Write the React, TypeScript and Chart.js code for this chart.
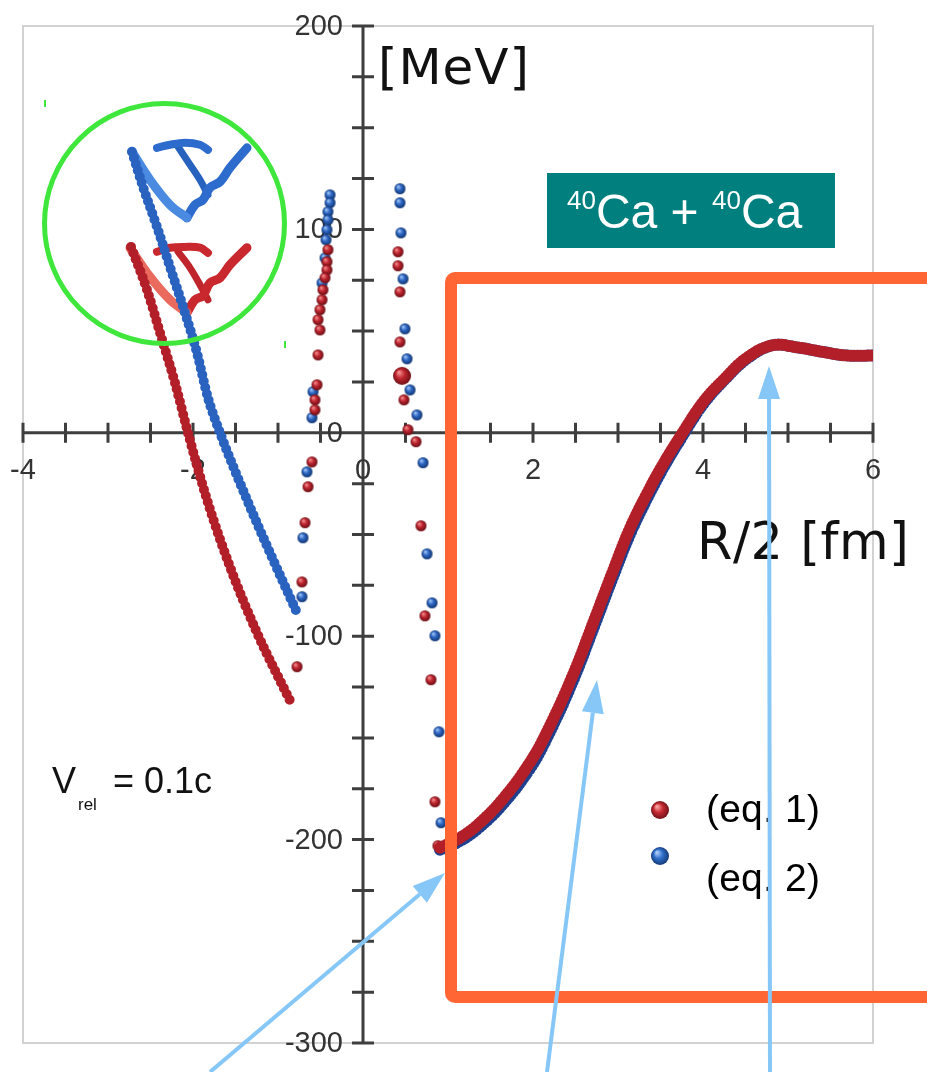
import { useEffect, useRef } from 'react';
import { Chart, registerables } from 'chart.js';

Chart.register(...registerables);

type Pt = [number, number];

// Axis ranges, tick marks and tick labels
const xRange: Pt = [-4, 6];
const yRange: Pt = [-300, 200];
const xTickValues = [-4, -3.5, -3, -2.5, -2, -1.5, -1, -0.5, 0, 0.5, 1, 1.5, 2, 2.5, 3, 3.5, 4, 4.5, 5, 5.5, 6];
const yTickValues = [-300, -275, -250, -225, -200, -175, -150, -125, -100, -75, -50, -25, 0, 25, 50, 75, 100, 125, 150, 175, 200];
const xTickLabels = ['-4', '-2', '0', '2', '4', '6'];
const yTickLabels = ['200', '100', '0', '-100', '-200', '-300'];

// Potential for R/2 > ~0.9 fm (eq. 1 and eq. 2 almost coincide)
const eq1Curve: Pt[] = [
  [0.906, -204], [1.106, -200], [1.341, -193], [1.647, -180], [1.965, -162], [2.176, -146],
  [2.47, -119], [2.73, -91], [2.94, -68], [3.14, -47], [3.34, -30], [3.53, -15.5], [3.76, 0],
  [4.0, 15], [4.24, 26], [4.52, 37], [4.82, 43], [5.11, 42], [5.38, 40], [5.69, 38], [6.0, 38],
];
const eq2Curve: Pt[] = [
  [0.906, -205], [1.106, -201.5], [1.341, -195], [1.647, -182.5], [1.965, -165], [2.176, -149],
  [2.47, -122], [2.73, -94], [2.94, -71], [3.14, -50], [3.34, -32.5], [3.53, -17.5], [3.76, -1.5],
  [4.0, 14], [4.24, 25.5], [4.52, 36.5], [4.82, 43], [5.11, 42], [5.38, 40], [5.69, 38], [6.0, 38],
];

// Negative-R branches
const eq1Diagonal: Pt[] = [
  [-2.729, 91.4], [-2.541, 70.3], [-2.388, 49.2], [-2.212, 24.6], [-2.059, 0], [-1.835, -32.9],
  [-1.565, -65.9], [-1.247, -98.3], [-0.835, -133.7],
];
const eq2Diagonal: Pt[] = [
  [-2.718, 138.2], [-2.588, 120.9], [-2.424, 101.3], [-2.271, 81.6], [-2.094, 59.0], [-1.953, 39.3],
  [-1.824, 17.2], [-1.682, 0], [-1.365, -32.9], [-1.094, -59.0], [-0.776, -88.5],
];

// Tangled loops near the top of the negative-R branches
const eq1LoopArc: Pt[] = [[-2.741, 90.9], [-2.506, 76.7], [-2.271, 65.4], [-2.071, 59.0]];
const eq1LoopZigzag: Pt[] = [[-2.071, 59.0], [-1.976, 65.4], [-1.882, 67.4], [-1.8, 73.7], [-1.682, 76.2], [-1.565, 82.6], [-1.365, 91.0]];
const eq1LoopBar: Pt[] = [[-2.424, 89.0], [-2.271, 91.0], [-2.094, 91.4], [-1.918, 91.0], [-1.824, 88.5]];
const eq1LoopStem: Pt[] = [[-2.176, 89.0], [-2.035, 81.1], [-1.918, 72.8], [-1.824, 65.4]];
const eq2LoopArc: Pt[] = [[-2.718, 138.2], [-2.506, 124.4], [-2.271, 112.1], [-2.071, 105.7]];
const eq2LoopZigzag: Pt[] = [[-2.071, 105.7], [-1.976, 112.1], [-1.882, 114.6], [-1.8, 120.5], [-1.682, 123.4], [-1.565, 130.3], [-1.365, 140.1]];
const eq2LoopBar: Pt[] = [[-2.424, 140.1], [-2.271, 141.6], [-2.094, 142.6], [-1.918, 141.6], [-1.824, 139.1]];
const eq2LoopStem: Pt[] = [[-2.176, 140.6], [-2.035, 131.8], [-1.918, 124.4], [-1.824, 117.0]];

// Scattered points around R/2 = -0.5 and R/2 = 0.5
const eq1ColumnLeft: Pt[] = [
  [-0.412, 90.0], [-0.424, 84.1], [-0.424, 80.1], [-0.447, 76.2], [-0.471, 70.3], [-0.482, 65.4],
  [-0.506, 60.5], [-0.529, 55.6], [-0.506, 50.6], [-0.529, 38.3], [-0.541, 23.6], [-0.565, 16.2],
  [-0.565, 11.3], [-0.6, -14.3], [-0.647, -26.5], [-0.682, -44.2], [-0.718, -73.3], [-0.776, -115.0],
];
const eq2ColumnLeft: Pt[] = [
  [-0.388, 117.0], [-0.388, 113.1], [-0.412, 108.7], [-0.412, 104.7], [-0.424, 99.8], [-0.435, 94.9],
  [-0.447, 86.0], [-0.482, 73.7], [-0.588, 20.2], [-0.6, 7.4], [-0.659, -19.2], [-0.706, -51.6],
  [-0.718, -80.6],
];
const eq1ColumnRight: Pt[] = [
  [0.412, 89.0], [0.412, 82.1], [0.435, 69.3], [0.435, 44.7], [0.482, 16.2], [0.529, 1.5],
  [0.624, -4.4], [0.682, -45.7], [0.729, -90.0], [0.8, -121.4], [0.847, -181.4], [0.882, -203.0],
];
const eq1Blob: Pt[] = [[0.459, 28.0]];
const eq2ColumnRight: Pt[] = [
  [0.435, 120.0], [0.435, 113.1], [0.447, 98.3], [0.471, 75.7], [0.494, 51.1], [0.518, 36.4],
  [0.553, 21.1], [0.635, 8.8], [0.706, -14.7], [0.753, -59.5], [0.812, -83.6], [0.847, -99.8],
  [0.894, -147.0], [0.918, -191.7],
];

const seriesNames = ['(eq. 1)', '(eq. 2)'];
const RED = '#b31f29';
const BLUE = '#2a62c0';

const toXY = (pts: Pt[]) => pts.map(([x, y]) => ({ x, y }));

function makeSphere(r: number, hi: string, mid: string, lo: string) {
  const c = document.createElement('canvas');
  const s = Math.ceil(r * 2 + 2);
  c.width = s;
  c.height = s;
  const g = c.getContext('2d')!;
  const cx = s / 2;
  const cy = s / 2;
  const grad = g.createRadialGradient(cx - r * 0.35, cy - r * 0.4, r * 0.1, cx, cy, r);
  grad.addColorStop(0, hi);
  grad.addColorStop(0.45, mid);
  grad.addColorStop(1, lo);
  g.fillStyle = grad;
  g.beginPath();
  g.arc(cx, cy, r, 0, Math.PI * 2);
  g.fill();
  return c;
}

function fitText(ctx: CanvasRenderingContext2D, text: string, x: number, y: number, width: number, font: string) {
  ctx.font = font;
  (ctx as any).letterSpacing = '0px';
  const w = ctx.measureText(text).width;
  const n = [...text].length;
  const ls = n > 1 ? (width - w) / (n - 1) : 0;
  (ctx as any).letterSpacing = `${ls}px`;
  ctx.fillText(text, x, y);
  (ctx as any).letterSpacing = '0px';
}

function arrow(ctx: CanvasRenderingContext2D, x1: number, y1: number, x2: number, y2: number) {
  const ang = Math.atan2(y2 - y1, x2 - x1);
  const len = 33;
  const hw = 11;
  const bx = x2 - len * Math.cos(ang);
  const by = y2 - len * Math.sin(ang);
  ctx.beginPath();
  ctx.moveTo(x1, y1);
  ctx.lineTo(bx, by);
  ctx.stroke();
  ctx.beginPath();
  ctx.moveTo(x2, y2);
  ctx.lineTo(bx + hw * Math.sin(ang), by - hw * Math.cos(ang));
  ctx.lineTo(bx - hw * Math.sin(ang), by + hw * Math.cos(ang));
  ctx.closePath();
  ctx.fill();
}

export default function App() {
  const canvasRef = useRef<HTMLCanvasElement | null>(null);

  useEffect(() => {
    const canvas = canvasRef.current;
    if (!canvas) return;

    const redSphere = makeSphere(5.5, '#f08a8a', '#bf2530', '#6a0e14');
    const blueSphere = makeSphere(5.5, '#9cc2f4', '#2d66c4', '#12356f');
    const redBig = makeSphere(9, '#f08a8a', '#c0262f', '#6e0f14');
    const redLegend = makeSphere(9, '#f6a0a0', '#c92a33', '#70121a');
    const blueLegend = makeSphere(9, '#a8c8f6', '#3070cc', '#143a78');

    const beads = (pts: Pt[], color: string, width: number, gap: number, smooth: 'monotone' | 'default') => ({
      data: toXY(pts),
      showLine: true,
      borderColor: color,
      borderWidth: width,
      borderDash: [0, gap],
      borderCapStyle: 'round' as const,
      borderJoinStyle: 'round' as const,
      cubicInterpolationMode: smooth,
      tension: 0.4,
      pointRadius: 0,
    });
    const tube = (pts: Pt[], color: string, width: number) => ({
      data: toXY(pts),
      showLine: true,
      borderColor: color,
      borderWidth: width,
      borderCapStyle: 'round' as const,
      borderJoinStyle: 'round' as const,
      tension: 0.35,
      pointRadius: 0,
    });
    const dots = (pts: Pt[], img: HTMLCanvasElement, r: number) => ({
      data: toXY(pts),
      showLine: false,
      pointStyle: img,
      pointRadius: r,
    });

    const crossAxes = {
      id: 'crossAxes',
      beforeDatasetsDraw(chart: any) {
        const { ctx, chartArea: a, scales } = chart;
        const xs = scales.x;
        const ys = scales.y;
        ctx.save();
        ctx.strokeStyle = '#d2d2d2';
        ctx.lineWidth = 2;
        ctx.strokeRect(a.left, a.top, a.right - a.left, a.bottom - a.top);

        ctx.filter = 'blur(0.5px)';
        const x0 = xs.getPixelForValue(0);
        const y0 = ys.getPixelForValue(0);
        ctx.strokeStyle = '#3e3e3e';
        ctx.lineWidth = 3;
        ctx.beginPath();
        ctx.moveTo(xs.getPixelForValue(xRange[0]), y0);
        ctx.lineTo(xs.getPixelForValue(xRange[1]), y0);
        ctx.moveTo(x0, ys.getPixelForValue(yRange[0]));
        ctx.lineTo(x0, ys.getPixelForValue(yRange[1]));
        for (const v of xTickValues) {
          const p = xs.getPixelForValue(v);
          ctx.moveTo(p, y0 - 10);
          ctx.lineTo(p, y0 + 10);
        }
        for (const v of yTickValues) {
          const p = ys.getPixelForValue(v);
          ctx.moveTo(x0 - 11, p);
          ctx.lineTo(x0 + 11, p);
        }
        ctx.stroke();

        ctx.fillStyle = '#333333';
        ctx.font = '29px "Liberation Sans", Arial, sans-serif';
        ctx.textAlign = 'center';
        ctx.textBaseline = 'middle';
        for (const t of xTickLabels) {
          ctx.fillText(t, xs.getPixelForValue(Number(t)), y0 + 38);
        }
        ctx.textAlign = 'right';
        for (const t of yTickLabels) {
          ctx.fillText(t, x0 - 20, ys.getPixelForValue(Number(t)) + 1);
        }
        ctx.restore();
        ctx.filter = 'blur(0.4px)';
      },
      afterDatasetsDraw(chart: any) {
        chart.ctx.filter = 'none';
      },
      afterDraw(chart: any) {
        const ctx: CanvasRenderingContext2D = chart.ctx;
        ctx.save();
        ctx.filter = 'none';

        // axis titles
        ctx.fillStyle = '#111';
        ctx.textAlign = 'left';
        ctx.textBaseline = 'alphabetic';
        fitText(ctx, '[MeV]', 378, 84, 151, '50px "DejaVu Sans", sans-serif');
        fitText(ctx, 'R/2 [fm]', 697, 559, 212, '51px "DejaVu Sans", sans-serif');

        // velocity label
        ctx.font = '36px "Liberation Sans", sans-serif';
        ctx.fillText('V', 52, 793);
        ctx.font = '17px "Liberation Sans", sans-serif';
        ctx.fillText('rel', 78, 810);
        ctx.font = '36px "Liberation Sans", sans-serif';
        ctx.fillText('= 0.1c', 113, 793);

        // reaction box
        ctx.fillStyle = '#007f7f';
        ctx.fillRect(547, 173, 288, 75);
        ctx.fillStyle = '#ffffff';
        let cx = 567;
        const big = '48px "Liberation Sans", sans-serif';
        const sup = '26px "Liberation Sans", sans-serif';
        const parts: [string, string, number][] = [
          ['40', sup, 209], ['Ca', big, 228], [' + ', big, 228], ['40', sup, 209], ['Ca', big, 228],
        ];
        for (const [t, f, by] of parts) {
          ctx.font = f;
          ctx.fillText(t, cx, by);
          cx += ctx.measureText(t).width;
        }

        // legend
        ctx.drawImage(redLegend, 660 - redLegend.width / 2, 810 - redLegend.height / 2);
        ctx.drawImage(blueLegend, 660 - blueLegend.width / 2, 856 - blueLegend.height / 2);
        ctx.fillStyle = '#000';
        ctx.textBaseline = 'middle';
        fitText(ctx, seriesNames[0], 706, 811, 114, '39px "Liberation Sans", sans-serif');
        fitText(ctx, seriesNames[1], 706, 880, 114, '39px "Liberation Sans", sans-serif');

        // highlight frame and circle
        ctx.strokeStyle = '#ff6633';
        ctx.lineWidth = 12;
        ctx.lineJoin = 'round';
        ctx.beginPath();
        (ctx as any).roundRect(451, 278, 490, 719, 4);
        ctx.stroke();

        ctx.strokeStyle = '#3fe63c';
        ctx.lineWidth = 5;
        ctx.beginPath();
        ctx.arc(164.5, 223.5, 120, 0, Math.PI * 2);
        ctx.stroke();
        ctx.lineWidth = 2;
        ctx.beginPath();
        ctx.moveTo(45, 100);
        ctx.lineTo(45, 107);
        ctx.moveTo(285, 341);
        ctx.lineTo(285, 348);
        ctx.stroke();

        // arrows
        ctx.strokeStyle = '#86c7f8';
        ctx.fillStyle = '#86c7f8';
        ctx.lineWidth = 4;
        ctx.lineCap = 'butt';
        arrow(ctx, 210, 1072, 445, 873);
        arrow(ctx, 547, 1072, 597, 680);
        arrow(ctx, 770, 1072, 769, 366);
        ctx.restore();
      },
    };

    const chart = new Chart(canvas, {
      type: 'scatter',
      data: {
        datasets: [
          { label: seriesNames[0], ...beads(eq1Curve, RED, 12, 3.5, 'default') },
          { label: seriesNames[1], ...beads(eq2Curve, '#1f3f8f', 12, 3.5, 'default') },
          { label: seriesNames[0], ...dots(eq1Blob, redBig, 9) },
          { label: seriesNames[0], ...dots(eq1ColumnLeft, redSphere, 5.5) },
          { label: seriesNames[0], ...dots(eq1ColumnRight, redSphere, 5.5) },
          { label: seriesNames[1], ...dots(eq2ColumnLeft, blueSphere, 5.5) },
          { label: seriesNames[1], ...dots(eq2ColumnRight, blueSphere, 5.5) },
          { label: seriesNames[1], ...beads(eq2Diagonal, BLUE, 10, 6.5, 'monotone') },
          { label: seriesNames[0], ...beads(eq1Diagonal, RED, 10, 6.5, 'monotone') },
          { label: seriesNames[0], ...tube(eq1LoopArc, '#ea6a5e', 9) },
          { label: seriesNames[0], ...tube(eq1LoopZigzag, '#c9282e', 9) },
          { label: seriesNames[0], ...tube(eq1LoopBar, '#c9282e', 8) },
          { label: seriesNames[0], ...tube(eq1LoopStem, '#bf252b', 7) },
          { label: seriesNames[1], ...tube(eq2LoopArc, '#4a8ae0', 9) },
          { label: seriesNames[1], ...tube(eq2LoopZigzag, '#2d6bcd', 9) },
          { label: seriesNames[1], ...tube(eq2LoopBar, '#2d6bcd', 8) },
          { label: seriesNames[1], ...tube(eq2LoopStem, '#2862bf', 7) },
        ] as any,
      },
      options: {
        responsive: false,
        animation: false,
        devicePixelRatio: 1,
        layout: { padding: { left: 23, right: 54, top: 26, bottom: 29 } },
        scales: {
          x: { type: 'linear', min: xRange[0], max: xRange[1], display: false },
          y: { type: 'linear', min: yRange[0], max: yRange[1], display: false },
        },
        plugins: { legend: { display: false }, tooltip: { enabled: false } },
      },
      plugins: [crossAxes],
    });

    return () => chart.destroy();
  }, []);

  return (
    <div style={{ position: 'fixed', left: 0, top: 0, width: 927, height: 1072, background: '#ffffff' }}>
      <canvas ref={canvasRef} width={927} height={1072} style={{ display: 'block' }} />
    </div>
  );
}
